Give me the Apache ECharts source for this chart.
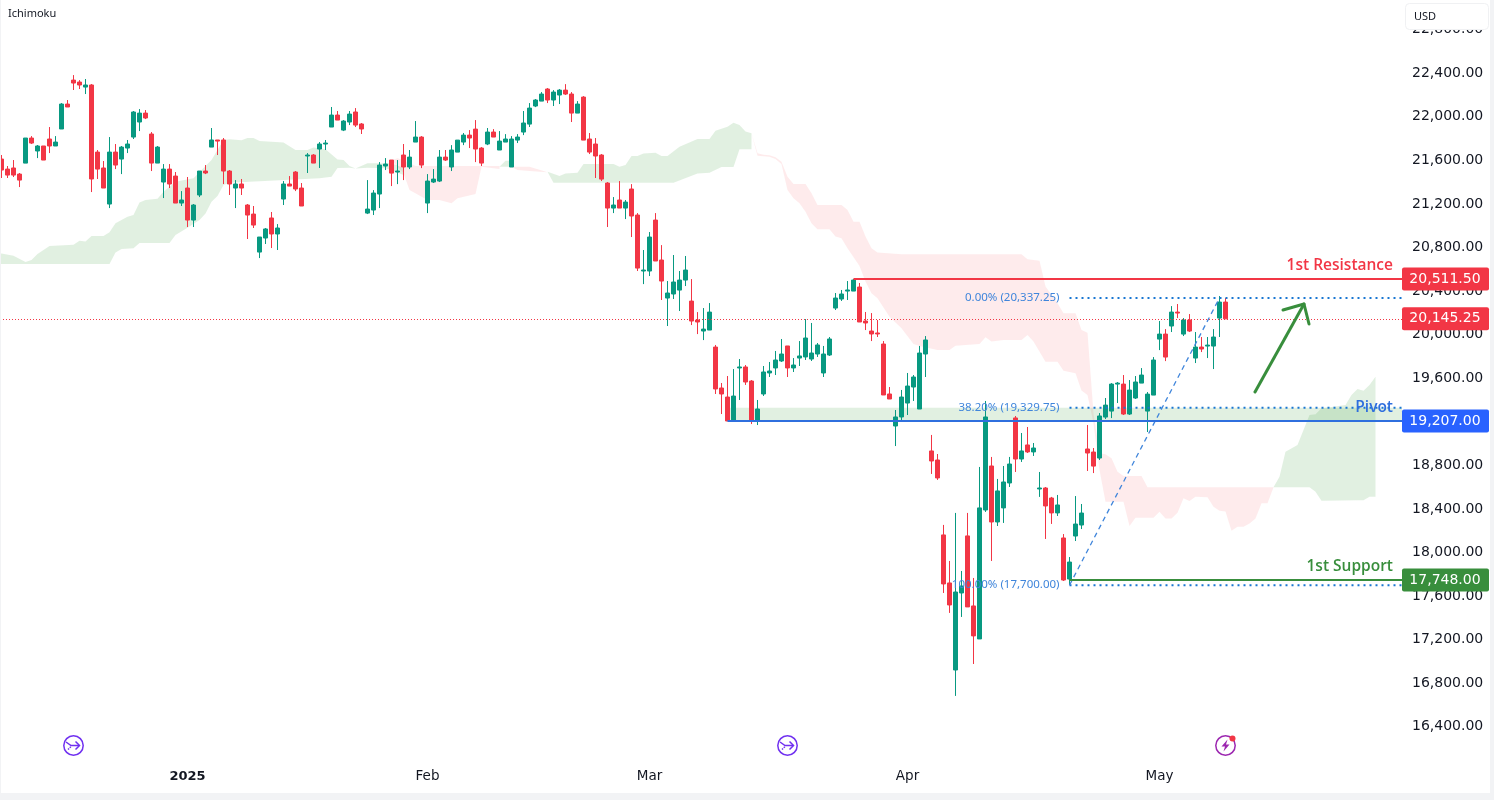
<!DOCTYPE html>
<html>
<head>
<meta charset="utf-8">
<title>Ichimoku</title>
<style>
html, body { margin: 0; padding: 0; background: #fff; }
#chart { width: 1494px; height: 800px; }
</style>
<script src="https://cdn.jsdelivr.net/npm/echarts@6/dist/echarts.min.js"></script>
</head>
<body>
<div id="chart"></div>
<script>
// 12h bars, [open, close, low, high]
const candles = [
[21612,21511,21438,21649],[21520,21465,21438,21548],[21530,21465,21447,21603],[21474,21419,21355,21484],[21575,21805,21575,21805],
[21805,21759,21750,21823],[21686,21732,21621,21741],[21732,21603,21603,21732],[21796,21732,21667,21906],[21732,21768,21732,21823],
[21888,22117,21888,22126],[22117,22090,22090,22154],[22337,22310,22246,22383],[22319,22292,22255,22337],[22273,22292,22209,22347],
[22292,21429,21309,22301],[21676,21520,21429,21695],[21530,21346,21346,21594],[21199,21676,21162,21814],[21676,21557,21520,21750],
[21612,21722,21474,21732],[21713,21750,21667,21787],[21814,22044,21796,22053],[21952,22034,21869,22071],[22034,21989,21979,22062],
[21842,21575,21502,21860],[21575,21722,21575,21732],[21401,21520,21254,21566],[21520,21383,21346,21566],[21456,21208,21208,21493],
[21208,21236,21181,21318],[21346,21052,20988,21447],[21052,21190,20988,21199],[21282,21502,21263,21502],[21502,21484,21474,21557],
[21722,21787,21722,21897],[21787,21777,21649,21787],[21787,21502,21383,21805],[21502,21383,21282,21511],[21346,21383,21162,21419],
[21383,21346,21282,21429],[21190,21098,20878,21199],[21107,21006,20979,21181],[20758,20896,20703,20896],[20887,20970,20832,20979],
[21071,20924,20795,21126],[20924,20979,20777,21015],[21245,21383,21190,21410],[21383,21364,21364,21456],[21493,21337,21318,21502],
[21346,21181,21181,21392],[21640,21649,21484,21667],[21649,21575,21575,21658],[21704,21750,21530,21768],[21750,21759,21695,21787],
[21906,22016,21906,22090],[22016,21970,21970,22053],[21878,21961,21869,21970],[21952,22025,21924,22053],[22044,21924,21906,22080],
[21934,21888,21842,21943],[21116,21153,21107,21419],[21144,21300,21098,21327],[21291,21557,21162,21584],[21548,21566,21511,21621],
[21603,21483,21364,21603],[21493,21502,21382,21603],[21649,21539,21419,21750],[21539,21630,21520,21695],[21768,21814,21768,21961],
[21814,21557,21529,21823],[21208,21410,21116,21474],[21401,21428,21392,21520],[21410,21630,21401,21695],[21630,21603,21594,21695],
[21539,21695,21502,21740],[21676,21786,21676,21786],[21768,21832,21740,21851],[21832,21805,21713,21878],[21887,21704,21584,21970],
[21713,21575,21548,21722],[21750,21860,21740,21897],[21860,21814,21814,21887],[21695,21777,21695,21869],[21768,21796,21768,21841],
[21539,21796,21539,21823],[21786,21814,21759,21841],[21860,21943,21832,22053],[21933,22080,21906,22126],[22099,22154,22089,22163],
[22144,22209,22144,22227],[22255,22154,22126,22264],[22154,22227,22099,22245],[22200,22245,22117,22255],[22245,22209,22200,22300],
[22209,22034,21952,22227],[22034,22117,22034,22144],[22181,21786,21786,22190],[21796,21676,21658,21851],[21750,21640,21438,21805],
[21649,21428,21410,21658],[21392,21162,20988,21401],[21162,21190,21116,21263],[21236,21162,21162,21410],[21162,21217,21061,21236],
[21337,21089,20896,21382],[21098,20611,20584,21116],[20584,20593,20464,20777],[20584,20896,20538,20942],[21052,20676,20676,21116],
[20685,20492,20318,20822],[20336,20382,20079,20492],[20373,20483,20327,20731],[20409,20501,20217,20584],[20501,20593,20446,20722],
[20308,20125,20088,20510],[20134,20116,20005,20207],[20033,20051,19950,20244],[20042,20207,20042,20290],[19886,19501,19455,19905],
[19510,19455,19271,19556],[19427,19207,19207,19620],[19207,19436,19207,19684],[19694,19703,19400,19776],[19703,19565,19538,19721],
[19574,19207,19179,19583],[19207,19317,19170,19400],[19455,19657,19437,19712],[19648,19666,19611,19749],[19694,19767,19629,19850],
[19758,19822,19749,19960],[19896,19694,19611,19896],[19694,19721,19657,19785],[19785,19804,19712,19941],[19795,19969,19767,20143],
[19776,19831,19758,20107],[19822,19905,19795,19923],[19648,19822,19611,19896],[19813,19960,19804,19978],[20244,20336,20226,20382],
[20327,20373,20309,20410],[20400,20410,20318,20492],[20400,20501,20400,20511],[20437,20116,20116,20474],[20125,20107,20042,20208],
[20033,20006,19941,20198],[20015,20006,19978,20134],[19914,19446,19446,19941],[19455,19409,19409,19519],[19161,19244,18977,19308],
[19244,19427,19207,19492],[19372,19528,19262,19648],[19519,19611,19391,19629],[19317,19831,19317,19896],[19822,19951,19611,19987],
[18932,18840,18721,19079],[18849,18684,18666,18904],[18161,17711,17628,18253],[17720,17518,17445,17922],[16921,17637,16683,18363],
[17628,17692,17408,17830],[18152,17500,17500,18363],[17509,17234,16976,17766],[17206,18409,17206,18785],[18390,19244,18372,19391],
[18794,18280,17922,18877],[18280,18565,18243,18675],[18409,18647,18271,18794],[18638,18812,18601,18877],[19235,18858,18739,19253],
[18858,18932,18831,19097],[18987,18923,18913,19152],[18923,18959,18886,19005],[18583,18592,18510,18739],[18592,18427,18124,18601],
[18500,18363,18262,18510],[18363,18436,18335,18528],[18133,17747,17738,18169],[17756,17912,17701,17958],[18151,18261,18105,18518],
[18252,18362,18215,18445],[18950,18913,18748,19170],[18922,18793,18729,18959],[18867,19253,18849,19280],[19243,19353,19225,19418],
[19298,19546,19234,19555],[19546,19555,19372,19565],[19546,19271,19262,19629],[19271,19491,19262,19583],[19418,19565,19409,19620],
[19555,19629,19555,19693],[19298,19454,19106,19473],[19445,19767,19445,19794],[19959,20005,19858,20125],[20005,19794,19757,20051],
[20079,20207,20024,20262],[20207,20198,20152,20281],[20005,20134,19987,20152],[20134,20033,20024,20189],[19785,19886,19739,20024],
[19886,19868,19840,19978],[19895,19904,19785,19978],[19895,19978,19684,20051],[20152,20299,19978,20354],[20299,20145,20145,20336]
];

const barCount = 234;
const monthBars = [31, 71, 108, 151, 193];
const monthNames = ['2025', 'Feb', 'Mar', 'Apr', 'May'];

const categories = [];
for (let i = 0; i < barCount; i++) {
    const m = monthBars.indexOf(i);
    categories.push(m >= 0 ? monthNames[m] : '');
}

// ichimoku cloud outline, one entry per coloured stretch: [bar, price]
const kumoBull = [true, true, false, true, false, true, false, true];
const kumoUpper = [
    [[-1,20746],[0,20746],[2,20725],[4,20667],[5,20685],[6,20740],[8,20813],[12,20826],[13,20862],[14,20856],[15,20905],[17,20905],[18,20939],[19,21022],[21,21083],[22,21098],[23,21214],[24,21236],[26,21248],[27,21312],[29,21404],[32,21435],[35,21603],[36,21695],[37,21787],[38,21793],[40,21784],[41,21805],[42,21805],[43,21777],[47,21765],[49,21695],[51,21695],[52,21719],[54,21701],[56,21609],[57,21603],[58,21548],[59,21526]],
    [[59,21526],[61,21573],[65,21573],[67,21530]],
    [[65,21600],[66,21620],[67,21600],[69,21548],[83,21548]],
    [[83,21542],[84,21597],[85,21597]],
    [[85,21542],[88,21542],[91,21490]],
    [[91,21496],[93,21456],[94,21480],[96,21486],[97,21566],[102,21566],[103,21542],[104,21557],[105,21640],[106,21640],[107,21664],[109,21670],[110,21640],[111,21640],[113,21725],[116,21796],[118,21796],[119,21872],[121,21909],[122,21946],[123,21925],[124,21866],[125,21848]],
    [[125,21848],[126,21665],[127,21652],[128,21646],[129,21628],[130,21588],[131,21450],[132,21383],[134,21383],[135,21297],[136,21190],[140,21190],[141,21144],[142,21037],[143,21037],[144,20900],[145,20792],[146,20753],[150,20737],[170,20737],[171,20692],[173,20679],[174,20441],[176,20288],[177,20196],[179,20196],[180,20043],[181,20018],[182,19277],[183,18910],[184,18901],[185,18864],[186,18742],[187,18702],[190,18702],[191,18598],[212,18598]],
    [[212,18598],[213,18696],[214,18925],[216,18986],[217,19124],[218,19262],[219,19268],[220,19323],[222,19338],[224,19354],[225,19445],[226,19501],[227,19485],[228,19537],[229,19614]]
];
const kumoLower = [
    [[-1,20648],[18,20648],[19,20755],[20,20786],[22,20792],[23,20841],[28,20841],[29,20914],[31,20982],[33,21052],[34,21113],[35,21220],[36,21273],[37,21374],[38,21395],[53,21435],[55,21450],[56,21530],[58,21533],[59,21526]],
    [[59,21526],[61,21533],[64,21527],[65,21510],[67,21466]],
    [[65,21600],[67,21481],[68,21328],[71,21236],[73,21236],[75,21206],[76,21252],[79,21291],[80,21542],[83,21521]],
    [[83,21542],[85,21542]],
    [[85,21542],[86,21512],[88,21502],[91,21490]],
    [[91,21496],[92,21395],[112,21395],[116,21480],[118,21486],[120,21539],[122,21539],[123,21701],[125,21701]],
    [[125,21848],[126,21643],[128,21634],[129,21613],[130,21567],[131,21328],[132,21252],[133,21206],[134,21129],[135,21022],[136,20967],[138,20967],[139,20900],[140,20884],[141,20792],[143,20630],[144,20487],[145,20379],[146,20333],[148,20165],[150,20058],[152,19914],[153,19896],[156,19859],[158,19859],[159,19899],[163,19914],[164,19975],[165,19936],[167,19951],[170,19951],[171,19997],[172,19936],[174,19752],[176,19752],[177,19669],[179,19645],[180,19486],[181,19446],[182,19186],[183,18757],[184,18466],[187,18466],[188,18243],[189,18319],[192,18319],[193,18374],[194,18313],[195,18313],[196,18365],[197,18497],[198,18472],[199,18512],[201,18506],[202,18420],[203,18384],[204,18375],[205,18200],[206,18237],[207,18237],[208,18267],[209,18313],[210,18451],[211,18451],[212,18598]],
    [[212,18598],[218,18598],[219,18558],[220,18475],[226,18479],[227,18479],[228,18512],[229,18512]]
];

// support / resistance drawn on the chart
const levelNames = ['1st Resistance', 'Pivot', '1st Support'];
const levelPrices = [20511.5, 19207, 17748];
const levelStartBars = [142, 121, 178];
const levelColors = ['#F23645', '#2F6FDE', '#388E3C'];
const levelTagColors = ['#F23645', '#2962FF', '#388E3C'];

// fibonacci retracement
const fibPercents = ['0.00%', '38.20%', '100.00%'];
const fibPrices = [20337.25, 19329.75, 17700];
const fibStartBar = 178;
const fibTopBar = 203;

const lastPrice = 20145.25;
const zoneBar = 121;

const RIGHT_EDGE = 1402;
const TEXT_EDGE = 1393;
const FONT = '"DejaVu Sans", sans-serif';

function money(v) {
    return v.toLocaleString('en-US', { minimumFractionDigits: 2, maximumFractionDigits: 2 });
}

function priceTag(y, color, value) {
    return [{
        type: 'rect',
        shape: { x: RIGHT_EDGE, y: y - 11.5, width: 87, height: 23, r: 2 },
        style: { fill: color }
    }, {
        type: 'text',
        style: { x: 1445, y: y, text: money(value), fill: '#fff', font: '14px ' + FONT, align: 'center', verticalAlign: 'middle' }
    }];
}

const chart = echarts.init(document.getElementById('chart'));

chart.setOption({
    animation: false,
    backgroundColor: '#fff',
    grid: { left: -1.5, width: 1404, top: -13.9, height: 784.2, containLabel: false, outerBoundsMode: 'none' },
    xAxis: {
        type: 'category',
        data: categories,
        boundaryGap: true,
        axisLine: { show: false },
        axisTick: { show: false },
        splitLine: { show: false },
        axisLabel: {
            interval: 0,
            margin: 6,
            verticalAlign: 'middle',
            color: '#131722',
            fontFamily: FONT,
            fontSize: 13.5,
            formatter: function (v) { return v === '2025' ? '{year|2025}' : v; },
            rich: { year: { fontFamily: FONT, fontSize: 13, fontWeight: 'bold', color: '#131722' } }
        }
    },
    yAxis: {
        type: 'value',
        position: 'right',
        min: 16000,
        max: 23200,
        interval: 400,
        scale: true,
        axisLine: { show: false },
        axisTick: { show: false },
        splitLine: { show: false },
        axisLabel: {
            showMinLabel: false,
            showMaxLabel: false,
            margin: 9.5,
            color: '#131722',
            fontFamily: FONT,
            fontSize: 14,
            padding: [0, 0, 3, 0],
            formatter: money
        }
    },
    series: [
        {
            // cloud behind the candles
            type: 'custom',
            z: 1,
            silent: true,
            data: kumoUpper.map(function (_, k) { return [k]; }),
            encode: { x: 0 },
            renderItem: function (params, api) {
                const k = params.dataIndex;
                const pts = kumoUpper[k].concat(kumoLower[k].slice().reverse()).map(function (p) { return api.coord(p); });
                return {
                    type: 'polygon',
                    shape: { points: pts },
                    style: { fill: kumoBull[k] ? 'rgba(67,160,71,0.16)' : 'rgba(242,54,69,0.1)' }
                };
            }
        },
        {
            // shaded zone between the 38.2% level and the pivot
            type: 'custom',
            z: 1,
            silent: true,
            data: [[0]],
            encode: { x: 0 },
            renderItem: function (params, api) {
                const a = api.coord([zoneBar, fibPrices[1]]);
                const b = api.coord([zoneBar, levelPrices[1]]);
                return {
                    type: 'rect',
                    shape: { x: a[0], y: a[1], width: RIGHT_EDGE - a[0], height: b[1] - a[1] },
                    style: { fill: 'rgba(67,160,71,0.16)' }
                };
            }
        },
        {
            type: 'candlestick',
            z: 2,
            barWidth: 4,
            data: candles,
            itemStyle: { color: '#089981', color0: '#F23645', borderColor: '#089981', borderColor0: '#F23645', borderWidth: 1 }
        },
        {
            // last price, fib lines, levels and their tags
            type: 'custom',
            z: 3,
            silent: true,
            clip: false,
            data: [[0]],
            encode: { x: 0 },
            renderItem: function (params, api) {
                const kids = [];
                const lastY = api.coord([0, lastPrice])[1];
                const lastRow = Math.round(lastY) + 0.5;
                kids.push({
                    type: 'line',
                    shape: { x1: 0, y1: lastRow, x2: RIGHT_EDGE, y2: lastRow },
                    style: { stroke: '#F23645', lineWidth: 1, lineDash: [1, 2] }
                });
                fibPrices.forEach(function (p, k) {
                    const s = api.coord([fibStartBar, p]);
                    kids.push({
                        type: 'line',
                        shape: { x1: s[0], y1: s[1], x2: RIGHT_EDGE, y2: s[1] },
                        style: { stroke: '#1976D2', lineWidth: 2, lineDash: [2, 4] }
                    });
                    kids.push({
                        type: 'text',
                        style: {
                            x: s[0] - 10, y: s[1], text: fibPercents[k] + ' (' + money(p) + ')',
                            fill: '#3F85DB', font: '11.5px "Noto Sans", sans-serif', align: 'right', verticalAlign: 'middle'
                        }
                    });
                });
                const d0 = api.coord([fibStartBar, fibPrices[2]]);
                const d1 = api.coord([fibTopBar, fibPrices[0]]);
                kids.push({
                    type: 'line',
                    shape: { x1: d0[0], y1: d0[1], x2: d1[0], y2: d1[1] },
                    style: { stroke: '#3F85DB', lineWidth: 1.3, lineDash: [5, 4] }
                });
                levelPrices.forEach(function (p, k) {
                    const s = api.coord([levelStartBars[k], p]);
                    kids.push({
                        type: 'line',
                        shape: { x1: s[0], y1: Math.round(s[1]), x2: RIGHT_EDGE, y2: Math.round(s[1]) },
                        style: { stroke: levelColors[k], lineWidth: 2 }
                    });
                    kids.push({
                        type: 'text',
                        style: {
                            x: TEXT_EDGE, y: s[1] - 13, text: levelNames[k], fill: levelColors[k],
                            font: '600 15.5px "Open Sans", sans-serif', align: 'right', verticalAlign: 'middle'
                        }
                    });
                    priceTag(s[1], levelTagColors[k], p).forEach(function (el) { kids.push(el); });
                });
                priceTag(lastY, '#F23645', lastPrice).forEach(function (el) { kids.push(el); });
                return { type: 'group', children: kids };
            }
        }
    ],
    graphic: [
        { type: 'rect', z: 50, silent: true, shape: { x: 0, y: 793, width: 1494, height: 7 }, style: { fill: '#F2F3F5' } },
        { type: 'rect', z: 50, silent: true, shape: { x: 0, y: 0, width: 1, height: 800 }, style: { fill: '#F2F3F5' } },
        { type: 'rect', z: 50, silent: true, shape: { x: 1490, y: 0, width: 4, height: 800 }, style: { fill: '#F2F3F5' } },
        { type: 'text', z: 50, silent: true, style: { x: 8, y: 14, text: 'Ichimoku', fill: '#131722', font: '11px "Noto Sans", sans-serif', verticalAlign: 'middle' } },
        // currency box
        { type: 'rect', z: 50, silent: true, shape: { x: 1405.5, y: 3.5, width: 83, height: 26, r: 4 }, style: { fill: '#fff', stroke: '#F0F1F3', lineWidth: 1 } },
        { type: 'text', z: 51, silent: true, style: { x: 1414, y: 16.5, text: 'USD', fill: '#131722', font: '11px "Noto Sans", sans-serif', verticalAlign: 'middle' } },
        // hand drawn arrow
        { type: 'polyline', z: 50, silent: true, shape: { points: [[1255, 392], [1304, 304]] }, style: { stroke: '#388E3C', lineWidth: 3, lineCap: 'round' } },
        { type: 'polyline', z: 50, silent: true, shape: { points: [[1283, 310], [1304, 304], [1309, 324]] }, style: { fill: 'none', stroke: '#388E3C', lineWidth: 3, lineCap: 'round', lineJoin: 'round' } },
        // event icons under the bars
        { type: 'circle', z: 50, silent: true, shape: { cx: 73.5, cy: 745.5, r: 9.7 }, style: { fill: '#fff', stroke: '#7030F0', lineWidth: 1.5 } },
        { type: 'polyline', z: 50, silent: true, shape: { points: [[66, 742], [71, 745.5], [79, 745.5]] }, style: { fill: 'none', stroke: '#7030F0', lineWidth: 1.5 } },
        { type: 'polyline', z: 50, silent: true, shape: { points: [[75.5, 741.5], [79.5, 745.5], [75.5, 749.5]] }, style: { fill: 'none', stroke: '#7030F0', lineWidth: 1.5 } },
        { type: 'polyline', z: 50, silent: true, shape: { points: [[68, 749.5], [71, 746.5]] }, style: { fill: 'none', stroke: '#7030F0', lineWidth: 1.5, lineDash: [1.5, 1] } },
        { type: 'circle', z: 50, silent: true, shape: { cx: 787.5, cy: 745.5, r: 9.7 }, style: { fill: '#fff', stroke: '#7030F0', lineWidth: 1.5 } },
        { type: 'polyline', z: 50, silent: true, shape: { points: [[780, 742], [785, 745.5], [793, 745.5]] }, style: { fill: 'none', stroke: '#7030F0', lineWidth: 1.5 } },
        { type: 'polyline', z: 50, silent: true, shape: { points: [[789.5, 741.5], [793.5, 745.5], [789.5, 749.5]] }, style: { fill: 'none', stroke: '#7030F0', lineWidth: 1.5 } },
        { type: 'polyline', z: 50, silent: true, shape: { points: [[782, 749.5], [785, 746.5]] }, style: { fill: 'none', stroke: '#7030F0', lineWidth: 1.5, lineDash: [1.5, 1] } },
        { type: 'circle', z: 50, silent: true, shape: { cx: 1225.5, cy: 745.5, r: 9.7 }, style: { fill: '#fff', stroke: '#9C27B0', lineWidth: 1.5 } },
        { type: 'polygon', z: 50, silent: true, shape: { points: [[1227.5, 739.5], [1221.5, 746.5], [1225, 746.5], [1223.5, 751.5], [1229.5, 744.5], [1226, 744.5]] }, style: { fill: '#9C27B0' } },
        { type: 'circle', z: 50, silent: true, shape: { cx: 1232.5, cy: 738.5, r: 3 }, style: { fill: '#F23645' } }
    ]
});
</script>
</body>
</html>
